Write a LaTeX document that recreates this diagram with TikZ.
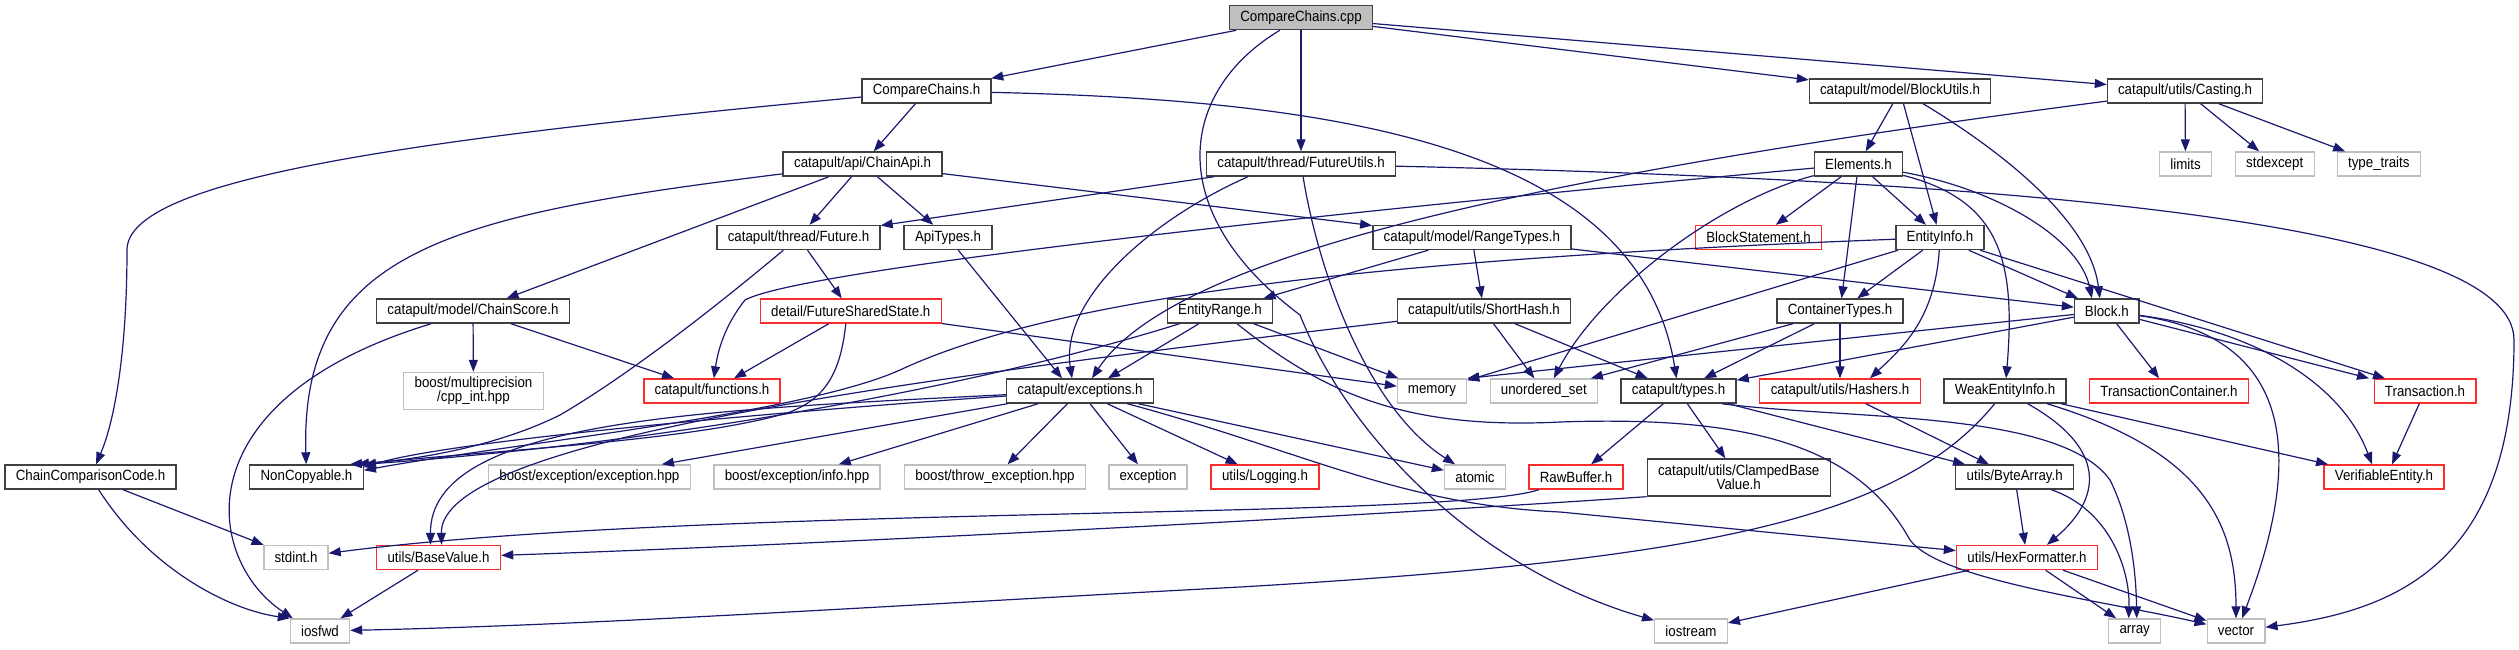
\documentclass[tikz,border=0pt]{standalone}
\usepackage{fontspec}
\setmainfont{Liberation Sans}[FakeStretch=0.9]
\usepackage{xcolor}
\usepackage{tikz}
\usetikzlibrary{arrows.meta}
\definecolor{edgeblue}{RGB}{25,25,112}
\definecolor{boxred}{RGB}{250,45,45}
\definecolor{boxgray}{RGB}{191,191,191}

\begin{document}
\begin{tikzpicture}[x=1pt, y=-1pt, >={Triangle[length=12pt,width=9pt]},
    font=\fontsize{14.8}{13.8}\selectfont,
    hfile/.style={draw=black!75, line width=1.4pt, inner sep=0pt,
                  minimum height=24pt, align=center, fill=white},
    redfile/.style={hfile, draw=boxred},
    sysfile/.style={hfile, draw=boxgray},
    rootfile/.style={hfile, fill=boxgray},
    incl/.style={->, draw=edgeblue, line width=1.2pt}]
    \useasboundingbox (0,0) rectangle (2519,649);

    \node[rootfile, minimum width=143pt] (cpp) at (1301,17.6) {CompareChains.cpp};
    \node[hfile, minimum width=129pt] (cch) at (926.5,91) {CompareChains.h};
    \node[hfile, minimum width=181pt] (blkutil) at (1900,91) {catapult/model/BlockUtils.h};
    \node[hfile, minimum width=155pt] (cast) at (2185,91) {catapult/utils/Casting.h};
    \node[hfile, minimum width=159pt] (chainapi) at (862.6,164) {catapult/api/ChainApi.h};
    \node[hfile, minimum width=189pt] (futil) at (1301,164) {catapult/thread/FutureUtils.h};
    \node[hfile, minimum width=88pt] (elem) at (1858.5,164) {Elements.h};
    \node[sysfile, minimum width=52pt] (limits) at (2185.5,164) {limits};
    \node[sysfile, minimum width=79pt] (stdexc) at (2274.7,164) {stdexcept};
    \node[sysfile, minimum width=83pt] (typetr) at (2378.8,164) {type\_traits};
    \node[hfile, minimum width=163pt] (future) at (798.5,237.5) {catapult/thread/Future.h};
    \node[hfile, minimum width=88pt] (apitypes) at (948,237.5) {ApiTypes.h};
    \node[hfile, minimum width=198pt] (rangetypes) at (1471.8,237.5) {catapult/model/RangeTypes.h};
    \node[redfile, minimum width=126pt] (blkstmt) at (1758.5,237.5) {BlockStatement.h};
    \node[hfile, minimum width=88pt] (entinfo) at (1940,237.5) {EntityInfo.h};
    \node[hfile, minimum width=193pt] (chainscore) at (473,311) {catapult/model/ChainScore.h};
    \node[redfile, minimum width=181pt] (fss) at (850.8,311) {detail/FutureSharedState.h};
    \node[hfile, minimum width=105pt] (entrange) at (1220,311) {EntityRange.h};
    \node[hfile, minimum width=173pt] (shorthash) at (1484,311) {catapult/utils/ShortHash.h};
    \node[hfile, minimum width=126pt] (conttypes) at (1840,311) {ContainerTypes.h};
    \node[hfile, minimum width=64.5pt] (block) at (2106.8,311) {Block.h};
    \node[sysfile, minimum width=140pt, minimum height=37pt] (cppint) at (473.5,391) {boost/multiprecision\\/cpp\_int.hpp};
    \node[redfile, minimum width=136pt] (functions) at (712,391) {catapult/functions.h};
    \node[hfile, minimum width=146.5pt] (excep) at (1080,391) {catapult/exceptions.h};
    \node[sysfile, minimum width=69pt] (memory) at (1432,391) {memory};
    \node[sysfile, minimum width=107pt] (uset) at (1543.8,391) {unordered\_set};
    \node[hfile, minimum width=115pt] (types) at (1678.5,391) {catapult/types.h};
    \node[redfile, minimum width=160.6pt] (hashers) at (1840,391) {catapult/utils/Hashers.h};
    \node[hfile, minimum width=122pt] (weakinfo) at (2005,391) {WeakEntityInfo.h};
    \node[redfile, minimum width=159pt] (txcont) at (2169,391) {TransactionContainer.h};
    \node[redfile, minimum width=101.6pt] (tx) at (2425,391) {Transaction.h};
    \node[hfile, minimum width=171pt] (cccode) at (90.6,477) {ChainComparisonCode.h};
    \node[hfile, minimum width=113.5pt] (noncopy) at (306.5,477) {NonCopyable.h};
    \node[sysfile, minimum width=201.6pt] (bexc) at (589.4,477) {boost/exception/exception.hpp};
    \node[sysfile, minimum width=165.7pt] (binfo) at (797,477) {boost/exception/info.hpp};
    \node[sysfile, minimum width=181pt] (bthrow) at (995,477) {boost/throw\_exception.hpp};
    \node[sysfile, minimum width=78pt] (exception) at (1148,477) {exception};
    \node[redfile, minimum width=108pt] (logging) at (1265,477) {utils/Logging.h};
    \node[sysfile, minimum width=61pt] (atomic) at (1475,477) {atomic};
    \node[redfile, minimum width=94pt] (rawbuf) at (1576,477) {RawBuffer.h};
    \node[hfile, minimum width=183pt, minimum height=37pt] (clamped) at (1738.7,477.5) {catapult/utils/ClampedBase\\Value.h};
    \node[hfile, minimum width=118pt] (bytearr) at (2014.7,477) {utils/ByteArray.h};
    \node[redfile, minimum width=120pt] (verif) at (2384,477) {VerifiableEntity.h};
    \node[sysfile, minimum width=64pt] (stdint) at (296,557.5) {stdint.h};
    \node[redfile, minimum width=124pt] (basevalue) at (438.5,557.5) {utils/BaseValue.h};
    \node[redfile, minimum width=141pt] (hexfmt) at (2027,557.5) {utils/HexFormatter.h};
    \node[sysfile, minimum width=59pt] (iosfwd) at (320,631) {iosfwd};
    \node[sysfile, minimum width=72.6pt] (iostream) at (1691,631) {iostream};
    \node[sysfile, minimum width=52pt] (array) at (2134.7,631) {array};
    \node[sysfile, minimum width=57.6pt] (vector) at (2236,631) {vector};

    % CompareChains.cpp
    \draw[incl] (cpp) -- (cch);
    \draw[incl] (cpp) -- (futil);
    \draw[incl] (cpp) -- (blkutil);
    \draw[incl] (cpp) -- (cast);
    \draw[incl] (cpp) .. controls (1180,90) and (1160,210) .. (1300,315)
          .. controls (1350,440) and (1480,570) .. (iostream);

    % CompareChains.h
    \draw[incl] (cch) .. controls (400,140) and (127,180) .. (127,250)
          .. controls (127,350) and (115,420) .. (cccode);
    \draw[incl] (cch) -- (chainapi);
    \draw[incl] (cch) .. controls (1350,100) and (1640,150) .. (types);

    % ChainApi.h
    \draw[incl] (chainapi) .. controls (450,215) and (300,250) .. (noncopy);
    \draw[incl] (chainapi) -- (chainscore);
    \draw[incl] (chainapi) -- (future);
    \draw[incl] (chainapi) -- (apitypes);
    \draw[incl] (chainapi) -- (rangetypes);

    % FutureUtils.h
    \draw[incl] (futil) -- (future);
    \draw[incl] ([xshift=-53pt]futil.south) .. controls (1150,220) and (1060,300) .. ([xshift=-8pt]excep.north);
    \draw[incl] (futil) .. controls (1320,280) and (1370,410) .. (atomic);
    \draw[incl] (futil) .. controls (2000,180) and (2514,220) .. (2514,340)
          .. controls (2514,560) and (2400,610) .. (vector);

    % BlockUtils.h, Casting.h
    \draw[incl] (blkutil) -- (elem);
    \draw[incl] (blkutil) -- (entinfo);
    \draw[incl] ([xshift=23pt]blkutil.south) .. controls (2000,150) and (2090,220) .. ([xshift=-7pt]block.north);
    \draw[incl] (cast) -- (limits);
    \draw[incl] (cast) -- (stdexc);
    \draw[incl] (cast) -- (typetr);
    \draw[incl] (cast) .. controls (1500,180) and (1170,260) .. ([xshift=12pt]excep.north);

    % Elements.h
    \draw[incl] (elem) .. controls (1300,215) and (800,270) .. (745,300)
          .. controls (725,325) and (718,350) .. (functions);
    \draw[incl] (elem) -- (blkstmt);
    \draw[incl] (elem) -- (conttypes);
    \draw[incl] (elem) -- (entinfo);
    \draw[incl] (elem) .. controls (2000,190) and (2080,240) .. ([xshift=-15pt]block.north);
    \draw[incl] (elem) .. controls (2000,200) and (2016,260) .. (weakinfo);
    \draw[incl] (elem) .. controls (1720,200) and (1600,290) .. ([xshift=10pt]uset.north);

    % EntityInfo.h
    \draw[incl] (entinfo) -- (conttypes);
    \draw[incl] (entinfo) .. controls (1935,320) and (1900,350) .. ([xshift=30pt]hashers.north);
    \draw[incl] (entinfo) -- (block);
    \draw[incl] (entinfo) -- ([xshift=-40pt]tx.north);
    \draw[incl] (entinfo) -- (memory);
    \draw[incl] (entinfo) .. controls (1350,260) and (1050,300) .. (900,370)
          .. controls (800,415) and (500,445) .. ([yshift=-6pt]noncopy.north east);

    % ContainerTypes.h, Block.h
    \draw[incl] (conttypes) -- (types);
    \draw[incl] (conttypes) -- (hashers);
    \draw[incl] (conttypes) -- (uset);
    \draw[incl] (block) -- (txcont);
    \draw[incl] (block) -- ([xshift=-56pt]tx.north);
    \draw[incl] (block) .. controls (2250,330) and (2340,380) .. ([xshift=-12pt]verif.north);
    \draw[incl] (block) .. controls (2310,340) and (2295,480) .. ([xshift=6pt]vector.north);
    \draw[incl] (block) -- (memory.north east);
    \draw[incl] (block) -- (types);

    % RangeTypes.h, EntityRange.h, ShortHash.h
    \draw[incl] (rangetypes) -- (entrange);
    \draw[incl] (rangetypes) -- (shorthash);
    \draw[incl] (rangetypes) -- (block);
    \draw[incl] (entrange) -- ([xshift=28pt]excep.north);
    \draw[incl] (entrange) -- (memory);
    \draw[incl] ([xshift=17pt]entrange.south) .. controls (1320,390) and (1400,430) .. (1560,422)
          .. controls (1760,415) and (1860,450) .. (1910,540)
          .. controls (1940,580) and (2100,600) .. (vector);
    \draw[incl] (entrange) .. controls (1000,380) and (700,440) .. (noncopy.north east);
    \draw[incl] (shorthash) -- (uset);
    \draw[incl] (shorthash) -- (types);
    \draw[incl] (shorthash) .. controls (900,380) and (440,440) .. ([xshift=3pt]basevalue.north);

    % exceptions.h
    \draw[incl] (excep) -- (bexc);
    \draw[incl] (excep) -- (binfo);
    \draw[incl] (excep) -- (bthrow);
    \draw[incl] (excep) -- (exception);
    \draw[incl] (excep) -- (logging);
    \draw[incl] (excep) -- (atomic);
    \draw[incl] (excep) .. controls (1300,450) and (1400,505) .. (1560,512) -- (hexfmt);
    \draw[incl] (excep) .. controls (800,410) and (450,440) .. ([yshift=-3pt]noncopy.north east);
    \draw[incl] (excep) .. controls (700,410) and (430,420) .. ([xshift=-8pt]basevalue.north);

    % Future.h, FutureSharedState.h, ApiTypes.h, ChainScore.h
    \draw[incl] (future) -- (fss);
    \draw[incl] (future) .. controls (700,320) and (620,380) .. (560,415)
          .. controls (500,445) and (420,460) .. ([xshift=-14pt]noncopy.north east);
    \draw[incl] (fss) -- (functions);
    \draw[incl] ([xshift=-5pt]fss.south) .. controls (840,380) and (820,400) .. (790,412)
          .. controls (700,440) and (500,450) .. ([xshift=-7pt]noncopy.north east);
    \draw[incl] (fss) -- (memory);
    \draw[incl] (apitypes) -- ([xshift=-18pt]excep.north);
    \draw[incl] (chainscore) -- (cppint);
    \draw[incl] (chainscore) -- (functions);
    \draw[incl] (chainscore) .. controls (180,400) and (205,560) .. ([xshift=3pt]iosfwd.north west);

    % lower rows
    \draw[incl] (cccode) -- (stdint);
    \draw[incl] (cccode) .. controls (150,570) and (230,610) .. (iosfwd.north west);
    \draw[incl] (basevalue) -- (iosfwd);
    \draw[incl] (rawbuf) .. controls (1450,520) and (700,505) .. (stdint);
    \draw[incl] (clamped.south west) .. controls (1300,520) and (800,545) .. (basevalue);
    \draw[incl] (types) -- (rawbuf);
    \draw[incl] (types) -- (clamped);
    \draw[incl] (types) -- (bytearr);
    \draw[incl] ([xshift=-15pt]types.south east) .. controls (1850,420) and (2060,410) .. (2110,480)
          .. controls (2130,520) and (2136,570) .. ([xshift=2pt]array.north);
    \draw[incl] (hashers) -- (bytearr);
    \draw[incl] (weakinfo) .. controls (2110,450) and (2100,500) .. ([xshift=20pt]hexfmt.north);
    \draw[incl] (weakinfo) .. controls (2200,450) and (2236,520) .. (vector);
    \draw[incl] (weakinfo) -- (verif);
    \draw[incl] (weakinfo) .. controls (1900,520) and (1700,560) .. (1240,587)
          .. controls (900,605) and (600,625) .. (iosfwd);
    \draw[incl] (tx) -- ([xshift=8pt]verif.north);
    \draw[incl] (bytearr) -- (hexfmt);
    \draw[incl] (bytearr) .. controls (2110,510) and (2130,570) .. ([xshift=-6pt]array.north);
    \draw[incl] (hexfmt) -- (array);
    \draw[incl] (hexfmt) -- (vector);
    \draw[incl] (hexfmt) -- (iostream);
\end{tikzpicture}
\end{document}
